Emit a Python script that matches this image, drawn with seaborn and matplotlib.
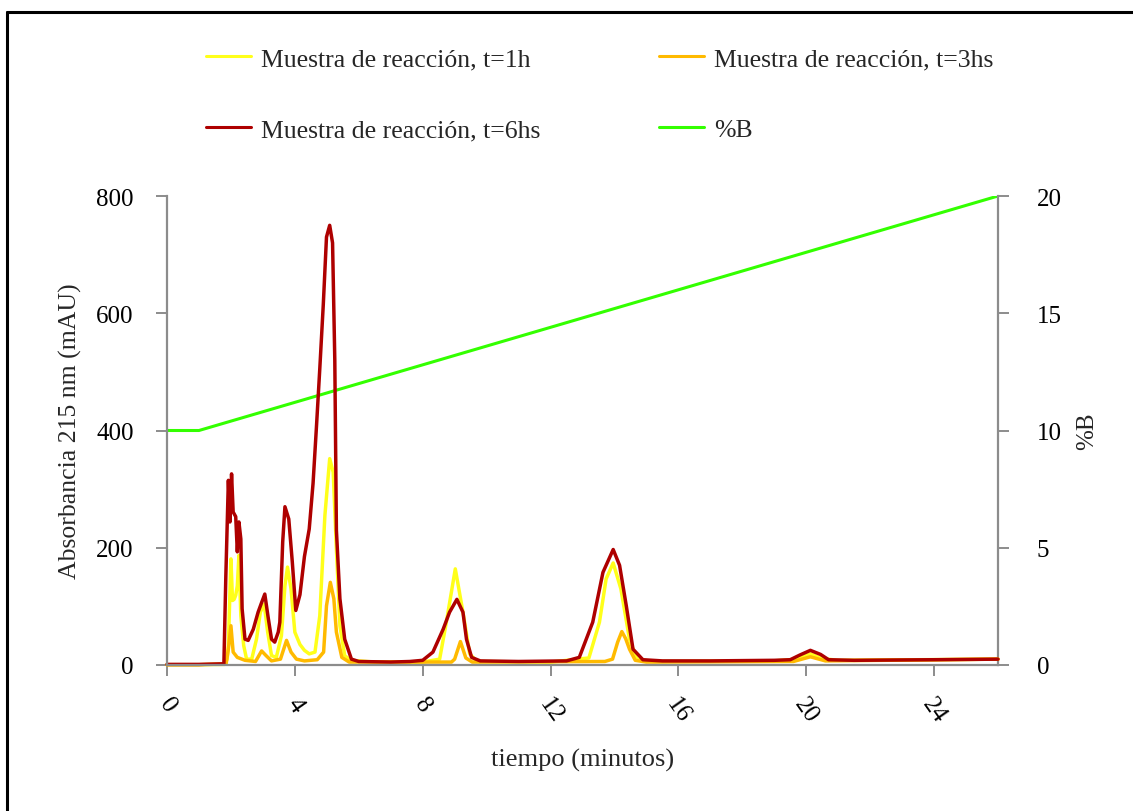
import matplotlib
matplotlib.use("Agg")
import matplotlib.pyplot as plt
from matplotlib.lines import Line2D
import numpy as np
import pandas as pd
import seaborn as sns

# Chromatogram traces (time in minutes, absorbance at 215 nm in mAU)
t_1h = [0, 1.0, 1.8, 1.88, 1.92, 2.0, 2.05, 2.1, 2.15, 2.2, 2.25, 2.31, 2.4, 2.49,
        2.65, 2.8, 2.92, 3.04, 3.15, 3.27, 3.42, 3.58, 3.69, 3.77, 3.88, 4.0, 4.16,
        4.3, 4.45, 4.63, 4.78, 4.94, 5.09, 5.2, 5.3, 5.41, 5.56, 5.75, 6.5, 8.0,
        8.53, 8.74, 9.02, 9.26, 9.47, 9.7, 12.0, 13.2, 13.53, 13.74, 13.96, 14.2,
        14.47, 14.7, 15.2, 19.0, 19.7, 20.13, 20.5, 21.0, 26.0]
abs_1h = [0.5, 0.5, 1, 10, 33, 181, 110, 112, 119, 135, 187, 84, 33, 10,
          10, 44, 90, 104, 56, 16, 13, 50, 135, 167, 130, 56, 35,
          25, 19, 22, 84, 255, 352, 329, 198, 67, 16, 8, 5, 5,
          10, 73, 164, 90, 19, 6, 5, 12, 73, 147, 174, 130,
          44, 10, 6, 7, 10, 19, 11, 8, 10]

t_3h = [0, 1.0, 1.85, 1.92, 2.0, 2.07, 2.2, 2.44, 2.77, 2.96, 3.1, 3.27, 3.55,
        3.74, 3.88, 4.05, 4.3, 4.7, 4.9, 4.99, 5.11, 5.22, 5.3, 5.47, 5.7, 8.9,
        9.0, 9.18, 9.35, 9.55, 13.7, 13.94, 14.1, 14.23, 14.35, 14.47, 14.65,
        15.0, 19.6, 20.13, 20.6, 26.0]
abs_3h = [0.5, 0.5, 2, 27, 67, 22, 13, 8, 6, 24, 16, 7, 10,
          42, 22, 10, 7, 9, 22, 101, 141, 113, 56, 13, 5, 5,
          10, 40, 12, 5, 6, 10, 39, 57, 45, 27, 8,
          5, 6, 14, 7, 10]

t_6h = [0, 1.0, 1.78, 1.84, 1.92, 1.97, 2.02, 2.07, 2.15, 2.2, 2.25, 2.31, 2.35,
        2.44, 2.54, 2.7, 2.85, 2.95, 3.06, 3.16, 3.27, 3.37, 3.48, 3.53, 3.62,
        3.69, 3.81, 3.92, 4.03, 4.16, 4.3, 4.45, 4.57, 4.68, 4.78, 4.89, 4.99,
        5.09, 5.18, 5.25, 5.3, 5.41, 5.56, 5.77, 6.0, 7.0, 7.6, 8.0, 8.32, 8.64,
        8.84, 9.07, 9.26, 9.37, 9.53, 9.8, 11.0, 12.5, 12.9, 13.32, 13.64, 13.96,
        14.16, 14.37, 14.58, 14.89, 15.5, 17.0, 19.0, 19.5, 19.8, 20.13, 20.45,
        20.7, 21.5, 24.0, 26.0]
abs_6h = [1, 1, 2, 150, 315, 244, 326, 261, 253, 193, 244, 215, 96,
          44, 42, 61, 90, 105, 121, 83, 44, 39, 56, 73, 210,
          270, 249, 176, 93, 120, 185, 232, 310, 410, 505, 615, 730,
          750, 720, 520, 230, 113, 44, 10, 6, 5, 6, 8, 22, 61,
          90, 112, 90, 44, 13, 7, 6, 7, 13, 73, 158, 197,
          170, 101, 27, 9, 7, 7, 8, 9, 17, 25, 18,
          9, 8, 9, 10]

# Gradient programme (% solvent B)
t_grad = [0, 1.0, 26.0]
pct_b = [10, 10, 20]

labels = ["Muestra de reacción, t=1h", "Muestra de reacción, t=3hs",
          "Muestra de reacción, t=6hs"]
colors = ["#FFFF1A", "#FFBA00", "#AE0000"]
grad_label = "%B"
grad_color = "#33FF00"

x_ticks = [0, 4, 8, 12, 16, 20, 24]
y_ticks = [0, 200, 400, 600, 800]
y2_ticks = [0, 5, 10, 15, 20]

df = pd.concat([
    pd.DataFrame({"tiempo": t, "abs": a, "muestra": lab})
    for t, a, lab in zip([t_1h, t_3h, t_6h], [abs_1h, abs_3h, abs_6h], labels)
], ignore_index=True)
df_grad = pd.DataFrame({"tiempo": t_grad, "pct": pct_b})

sns.set_theme(style="white")
plt.rcParams["font.family"] = ["Liberation Serif", "DejaVu Serif"]

fig = plt.figure(figsize=(11.33, 8.12), dpi=100)
ax = fig.add_axes([167 / 1133, 1 - 666 / 812, (998 - 167) / 1133, (666 - 197) / 812])
ax2 = ax.twinx()

sns.lineplot(data=df_grad, x="tiempo", y="pct", color=grad_color, linewidth=2.2,
             ax=ax2, legend=False, estimator=None)
sns.lineplot(data=df, x="tiempo", y="abs", hue="muestra", hue_order=labels,
             palette=dict(zip(labels, colors)), linewidth=2.5, ax=ax,
             legend=False, estimator=None)

# Draw the absorbance traces above the gradient line
ax.set_zorder(ax2.get_zorder() + 1)
ax.patch.set_visible(False)
for ln in ax.lines:
    ln.set_clip_on(False)

ax.set_xlim(0, 26)
ax.set_ylim(0, 800)
ax2.set_ylim(0, 20)
ax.set_xticks(x_ticks)
ax.set_yticks(y_ticks)
ax2.set_yticks(y2_ticks)

spine_col = "#8C8C8C"
for a in (ax, ax2):
    for s in a.spines.values():
        s.set_color(spine_col)
        s.set_linewidth(1.6)
    a.spines["top"].set_visible(False)
ax.spines["right"].set_visible(False)
ax2.spines["left"].set_visible(False)
ax2.spines["bottom"].set_visible(False)

ax.tick_params(axis="both", direction="out", length=8, width=1.4, color=spine_col,
               labelsize=18, colors="black")
ax.tick_params(axis="y", pad=16, left=True)
ax.tick_params(axis="x", pad=12, bottom=True)
ax2.tick_params(axis="y", direction="out", length=8, width=1.4, color=spine_col,
                labelsize=18, pad=20, right=True, colors="black")
for lab in ax.get_xticklabels():
    lab.set_rotation(-55)
    lab.set_ha("center")
    lab.set_va("top")

ax.set_xlabel("tiempo (minutos)", fontsize=19, labelpad=16)
ax.set_ylabel("Absorbancia 215 nm (mAU)", fontsize=18.5, labelpad=10)
ax2.set_ylabel(grad_label, fontsize=18, labelpad=10)
ax.grid(False)
ax2.grid(False)

handles = [
    Line2D([], [], color=colors[0], lw=2.2),
    Line2D([], [], color=colors[2], lw=2.2),
    Line2D([], [], color=colors[1], lw=2.2),
    Line2D([], [], color=grad_color, lw=2.2),
]
names = [labels[0], labels[2], labels[1], grad_label]
fig.legend(handles, names, ncol=2, loc="upper left",
           bbox_to_anchor=(206 / 1133, 1 - 48 / 812), frameon=False,
           fontsize=18.5, handlelength=1.75, handletextpad=0.4,
           labelspacing=1.87, columnspacing=4.6, borderaxespad=0, borderpad=0)

# Frame lines along the left and top edges of the figure
fig.add_artist(Line2D([7 / 1133, 7 / 1133], [0, 1 - 13 / 812],
                      transform=fig.transFigure, color="black", lw=2.2))
fig.add_artist(Line2D([7 / 1133, 1], [1 - 13 / 812, 1 - 13 / 812],
                      transform=fig.transFigure, color="black", lw=2.2))

fig.savefig("out.png", dpi=100, facecolor="white")
